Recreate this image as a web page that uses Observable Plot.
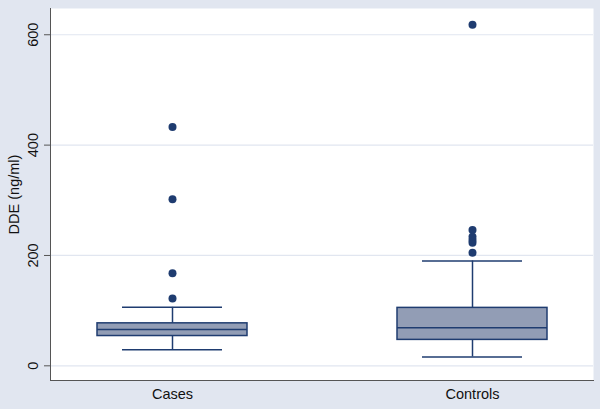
<!DOCTYPE html>
<html>
<head>
<meta charset="utf-8">
<script src="https://cdn.jsdelivr.net/npm/d3@7"></script>
<script src="https://cdn.jsdelivr.net/npm/@observablehq/plot@0.6"></script>
<style>
  html, body { margin: 0; padding: 0; background: #e1e6f0; }
  #chart svg { display: block; }
</style>
</head>
<body>
<div id="chart"></div>
<script>
const groups = ["Cases", "Controls"];
const lowerWhisker = [29, 16];
const q1 = [54, 47];
const median = [66, 69];
const q3 = [77, 105];
const upperWhisker = [106, 190];
const outlierGroup = ["Cases", "Cases", "Cases", "Cases", "Controls", "Controls", "Controls", "Controls", "Controls", "Controls"];
const outlierValue = [122, 168, 302, 433, 205, 223, 228, 234, 246, 618];
const yTicks = [0, 200, 400, 600];
const yTitle = "DDE (ng/ml)";

const boxes = groups.map((g, i) => ({g, lo: lowerWhisker[i], q1: q1[i], med: median[i], q3: q3[i], hi: upperWhisker[i]}));
const outliers = outlierGroup.map((g, i) => ({g, v: outlierValue[i]}));

const navy = "#1f3c70";
const font = "Liberation Sans, Arial, Helvetica, sans-serif";

const chart = Plot.plot({
  width: 600,
  height: 409,
  marginLeft: 50,
  marginRight: 7,
  marginTop: 8,
  marginBottom: 29,
  style: {background: "#e1e6f0", fontFamily: font, fontSize: "14.5px", color: "#111"},
  x: {domain: groups, paddingInner: 0.5, paddingOuter: 0.155, label: null},
  y: {domain: [-26.6, 647.6], label: null},
  marks: [
    Plot.frame({fill: "white", stroke: "none"}),
    Plot.ruleY(yTicks, {stroke: "#e1e6f0", strokeWidth: 1.2}),
    Plot.frame({anchor: "left", stroke: "#555", strokeWidth: 1}),
    Plot.frame({anchor: "bottom", stroke: "#555", strokeWidth: 1}),
    Plot.axisY({ticks: yTicks, tickSize: 6, tickFormat: () => "", label: null, stroke: "#555"}),
    Plot.text(yTicks, {y: d => d, text: d => String(d), frameAnchor: "left", dx: -17, rotate: -90, textAnchor: "middle", lineAnchor: "middle", fontSize: 14.5, fill: "#111"}),
    Plot.text([yTitle], {frameAnchor: "left", dx: -36, rotate: -90, textAnchor: "middle", lineAnchor: "middle", fontSize: 14.5, fill: "#111"}),
    Plot.axisX({tickSize: 0, tickPadding: 8, label: null, fontSize: 14.5}),
    Plot.ruleX(boxes, {x: "g", y1: "lo", y2: "q1", stroke: navy, strokeWidth: 1.5}),
    Plot.ruleX(boxes, {x: "g", y1: "q3", y2: "hi", stroke: navy, strokeWidth: 1.5}),
    Plot.tickY(boxes, {x: "g", y: "lo", stroke: navy, strokeWidth: 1.5, insetLeft: 25, insetRight: 25}),
    Plot.tickY(boxes, {x: "g", y: "hi", stroke: navy, strokeWidth: 1.5, insetLeft: 25, insetRight: 25}),
    Plot.barY(boxes, {x: "g", y1: "q1", y2: "q3", fill: "#929db5", stroke: navy, strokeWidth: 1.5}),
    Plot.tickY(boxes, {x: "g", y: "med", stroke: navy, strokeWidth: 1.5}),
    Plot.dot(outliers, {x: "g", y: "v", r: 4, fill: navy, stroke: "none"})
  ]
});
document.getElementById("chart").appendChild(chart);
</script>
</body>
</html>
